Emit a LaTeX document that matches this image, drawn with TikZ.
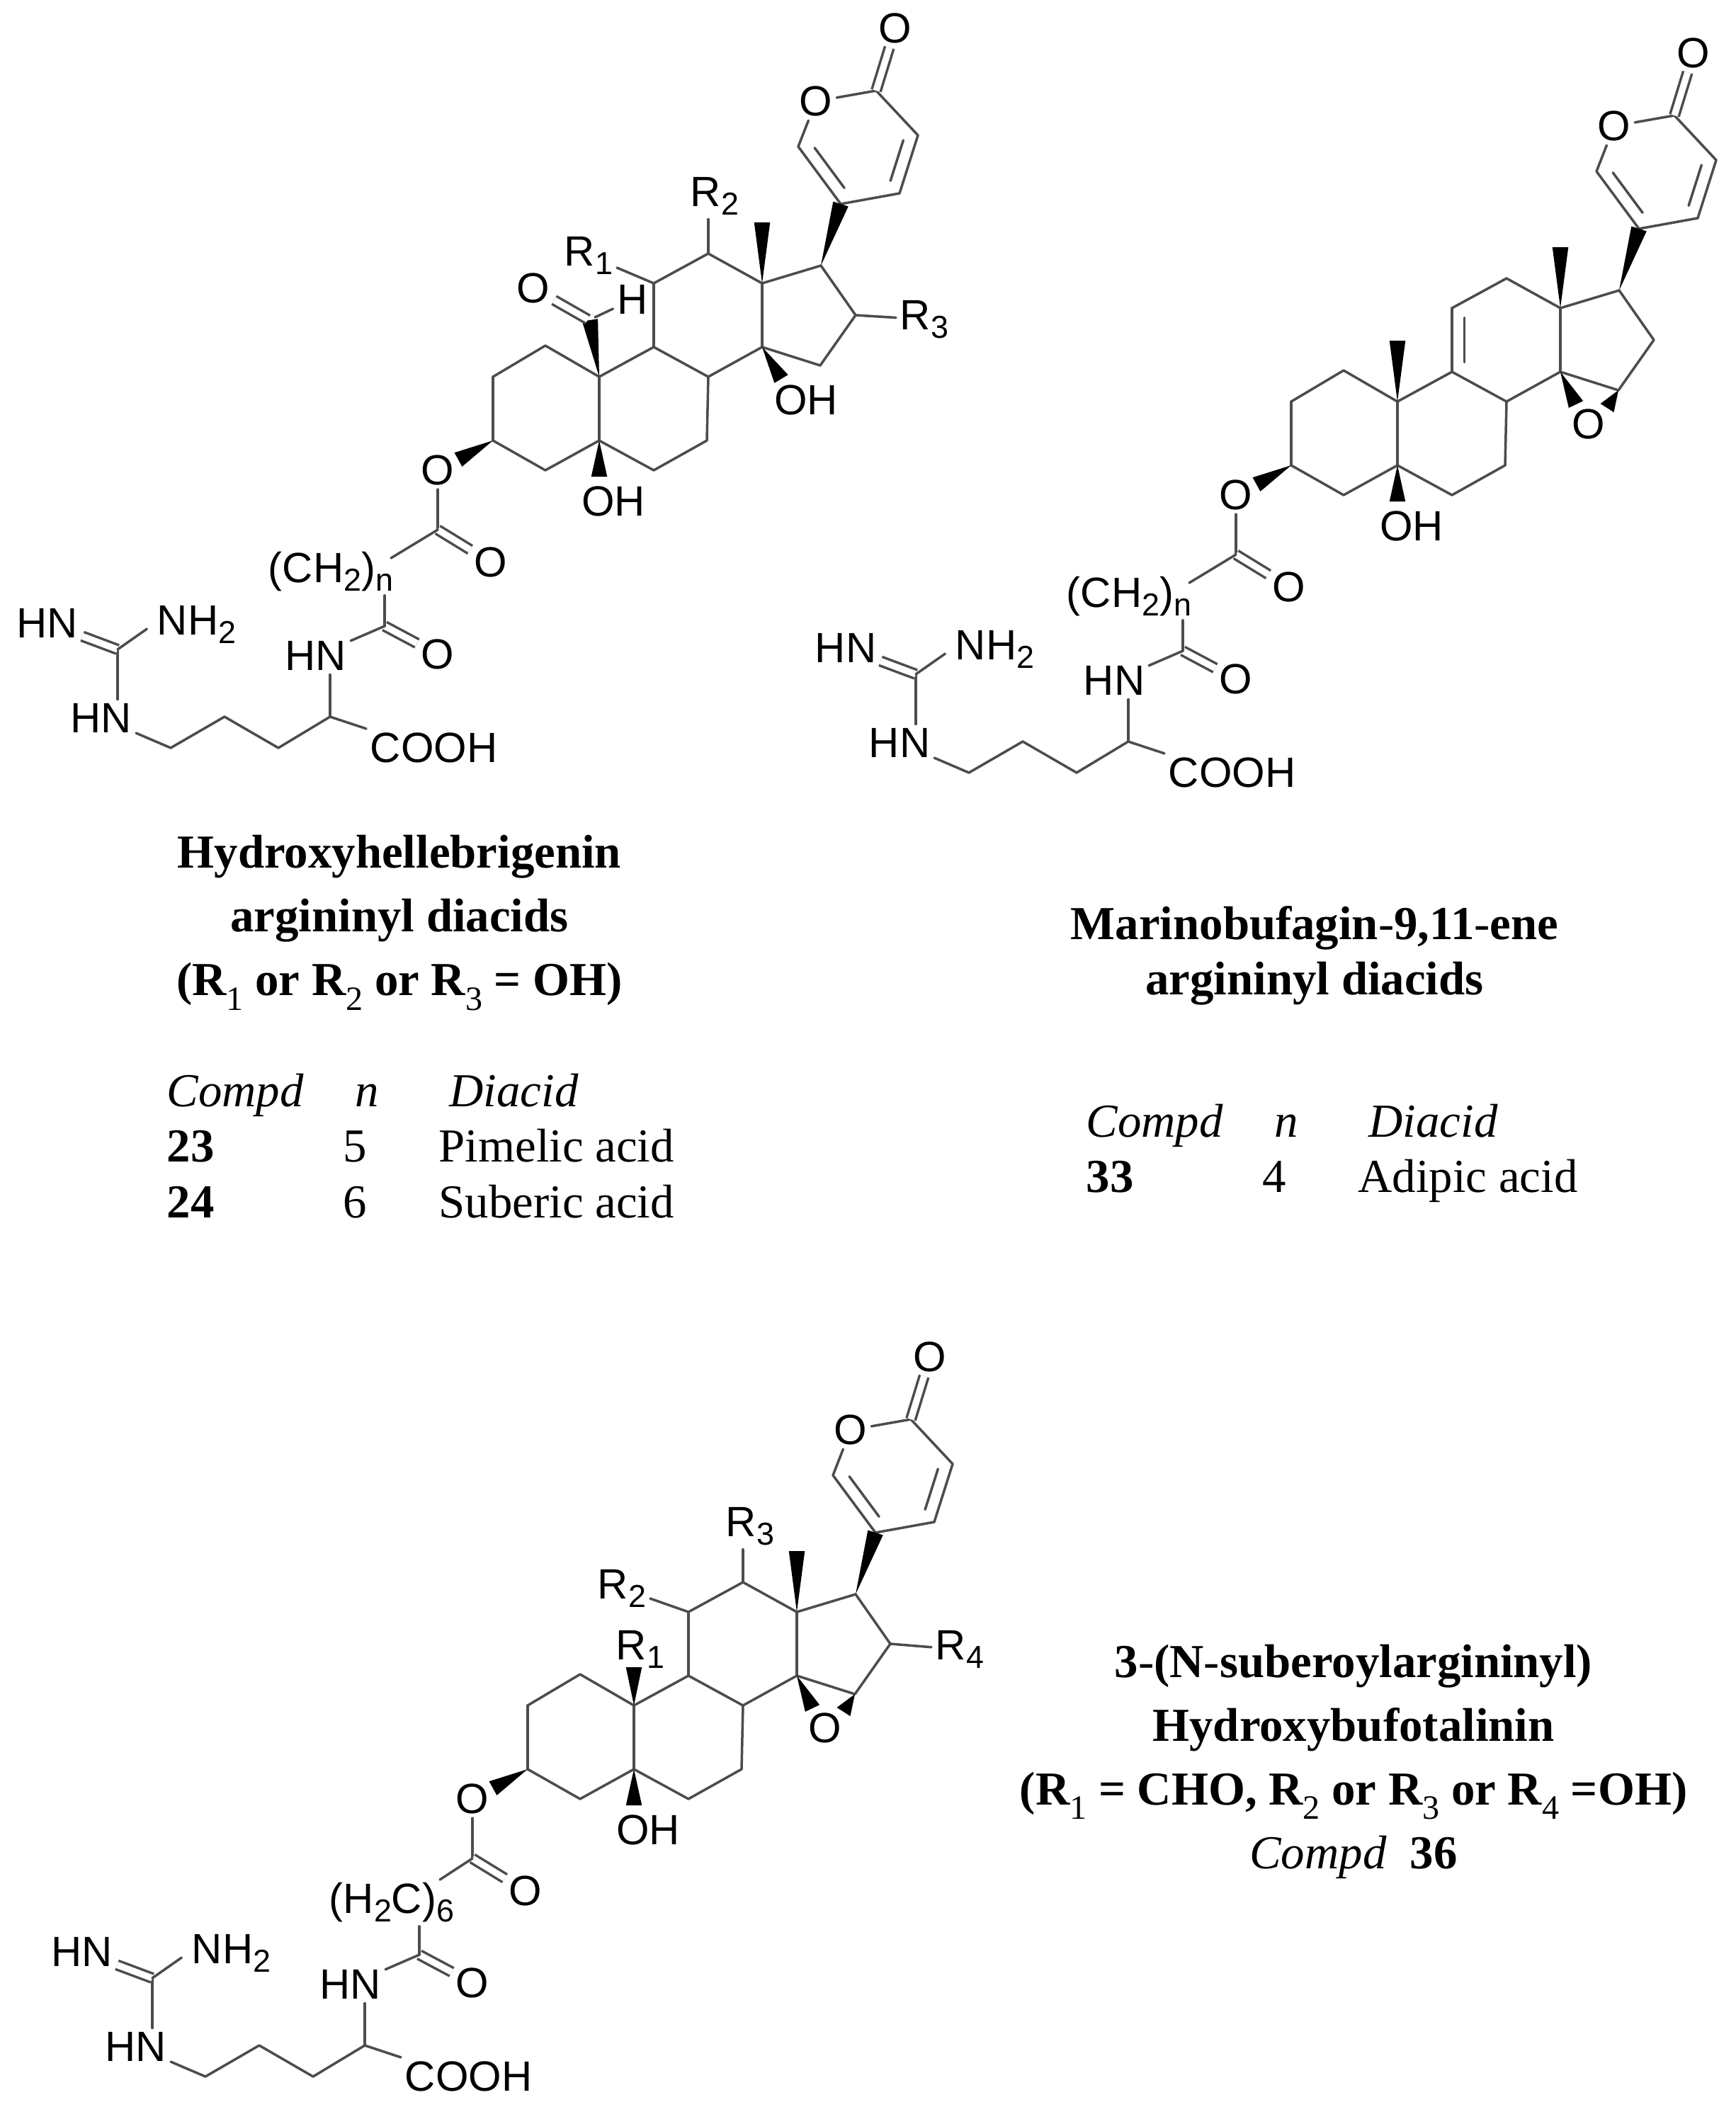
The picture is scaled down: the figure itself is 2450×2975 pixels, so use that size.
\documentclass[tikz,border=0pt]{standalone}
\usepackage{fontspec}
\setmainfont{Liberation Serif}
\newfontfamily\atomfamily{Liberation Sans}
\usetikzlibrary{calc}
\definecolor{bondgray}{gray}{0.3}
\newcommand{\sbs}[1]{\raisebox{-0.2em}{\scalebox{0.75}{#1}}}
\newcommand{\csbs}[1]{\raisebox{-0.3em}{\scalebox{0.72}{\mdseries #1}}}
\newcommand{\thinhy}{{\mdseries-}}
\newcommand{\capfont}{\fontsize{19}{25.6}\selectfont}
\newcommand{\wedgebond}[2]{\fill[black] (#1) -- ($(#2)!3.2pt!90:(#1)$) -- ($(#2)!3.2pt!-90:(#1)$) -- cycle;}
\newcommand{\innerbond}[3]{\draw[bond] ($(#1)!.15!(#2)!#3!90:(#2)$) -- ($(#2)!.15!(#1)!#3!-90:(#1)$);}
\tikzset{
  bond/.style={draw=bondgray,line width=1pt,line cap=round,line join=round},
  dbl/.style={bond,double=white,double distance=2.6pt,line cap=butt},
  atom/.style={font=\atomfamily\fontsize{17}{19}\selectfont,inner sep=1.5pt,text=black},
  captext/.style={font=\capfont\bfseries,align=center,inner sep=0pt},
  cell/.style={font=\capfont,anchor=base west,inner sep=0pt},
}
%steroid rings and pyranone, same in all three
\newcommand{\skeleton}{
  \coordinate (c1) at (770,488); \coordinate (c2) at (696,532);
  \coordinate (c3) at (696,622); \coordinate (c4) at (770,664);
  \coordinate (c5) at (846,622); \coordinate (c6) at (923,664);
  \coordinate (c7) at (998,622); \coordinate (c8) at (1000,532);
  \coordinate (c9) at (923,490); \coordinate (c10) at (846,532);
  \coordinate (c11) at (923,400); \coordinate (c12) at (1000,358);
  \coordinate (c13) at (1076,400); \coordinate (c14) at (1076,490);
  \coordinate (c15) at (1158,516); \coordinate (c16) at (1208,445);
  \coordinate (c17) at (1159,375);
  \coordinate (p2) at (1237,128); \coordinate (p3) at (1296,191);
  \coordinate (p4) at (1270,273); \coordinate (p5) at (1187,288);
  \coordinate (p6) at (1127,207);
  \coordinate (me) at (1076,314); \coordinate (oht) at (846,673);
  \coordinate (oet) at (647,649);
  \node[atom] (po) at (1152,143) {O};
  \node[atom] (pco) at (1264,40) {O};
  \node[atom] (oh5) at (866,708) {OH};
  \foreach \a/\b in {c1/c2,c2/c3,c3/c4,c4/c5,c5/c10,c10/c1,c5/c6,c6/c7,c7/c8,c8/c9,c9/c10,
    c9/c11,c11/c12,c12/c13,c13/c14,c14/c8,c13/c17,c17/c16,c16/c15,c15/c14,
    p2/p3,p3/p4,p4/p5,p5/p6}
    \draw[bond] (\a) -- (\b);
  \draw[bond] (p2) -- (po);
  \draw[bond] (po) -- (p6);
  \draw[dbl] (p2) -- (pco);
  \innerbond{p6}{p5}{5pt}
  \innerbond{p4}{p3}{5pt}
  \wedgebond{c13}{me}
  \wedgebond{c17}{p5}
  \wedgebond{c5}{oht}
  \wedgebond{c3}{oet}
}
%ester, amide and arginine part
\newcommand{\tailchain}{
  \node[atom] (oest) at (618,664) {O};
  \coordinate (cq) at (618,748);
  \node[atom] (oq) at (693,794) {O};
  \coordinate (ca) at (543,884);
  \node[atom] (oa) at (618,924) {O};
  \node[atom] (hna) at (446,926) {HN};
  \coordinate (cal) at (466,1012);
  \node[atom,anchor=west] (cooh) at (517,1056) {COOH};
  \coordinate (t1) at (393,1056);
  \coordinate (t2) at (317,1012);
  \coordinate (t3) at (241,1056);
  \node[atom] (hnb) at (143,1014) {HN};
  \coordinate (cg) at (166,917);
  \node[atom] (hnc) at (67,880) {HN};
  \node[atom,anchor=west] (nh) at (216,882) {NH\sbs{2}};
  \draw[bond] (oest) -- (cq);
  \draw[dbl] (cq) -- (oq);
  \draw[dbl] (ca) -- (oa);
  \draw[bond] (ca) -- (hna);
  \draw[bond] (cal) -- (cal |- hna.south);
  \draw[bond] (cal) -- (cooh.north west);
  \draw[bond] (cal) -- (t1) -- (t2) -- (t3) -- (hnb);
  \draw[bond] (cg) -- (cg |- hnb.north);
  \draw[dbl] (cg) -- (hnc);
  \draw[bond,shorten >=3pt] (cg) -- (nh.west);
}
%epoxide on c14 and c15
\newcommand{\epoxide}{
  \node[atom] (oep) at (1116,564) {O};
  \coordinate (ep1) at (1098,536);
  \coordinate (ep2) at (1142,541);
  \wedgebond{c14}{ep1}
  \wedgebond{c15}{ep2}
}
\begin{document}
\begin{tikzpicture}[x=0.01cm,y=-0.01cm]
  \useasboundingbox (0,0) rectangle (2450,2975);

  %hydroxyhellebrigenin
  \begin{scope}[name prefix=a-]
    \skeleton
    \tailchain
    \coordinate (cho) at (833,452);
    \coordinate (chd) at (830,451);
    \coordinate (chh) at (840,448);
    \coordinate (me14) at (1103,535);
    \coordinate (cqe) at (552,788);
    \node[atom] (ohb) at (1138,565) {OH};
    \node[atom] (ald) at (753,407) {O};
    \node[atom] (hal) at (893,423) {H};
    \node[atom] (rone) at (831,361) {R\sbs{1}};
    \node[atom] (rtwo) at (1009,277) {R\sbs{2}};
    \node[atom] (rthree) at (1305,451) {R\sbs{3}};
    \node[atom,anchor=west] (chn) at (373,807) {(CH\sbs{2})\sbs{n}};
    \wedgebond{c10}{cho}
    \wedgebond{c14}{me14}
    \draw[dbl] (chd) -- (ald);
    \draw[bond] (chh) -- (hal);
    \draw[bond] (c11) -- (rone);
    \draw[bond] (c12) -- (c12 |- rtwo.south);
    \draw[bond] (c16) -- (rthree);
    \draw[bond] (cq) -- (cqe);
    \draw[bond] (ca) -- (ca |- chn.south);
  \end{scope}

  %marinobufagin
  \begin{scope}[shift={(1127,35)},name prefix=b-]
    \skeleton
    \tailchain
    \epoxide
    \coordinate (me10) at (846,446);
    \coordinate (cqe) at (552,788);
    \node[atom,anchor=west] (chn) at (373,807) {(CH\sbs{2})\sbs{n}};
    \wedgebond{c10}{me10}
    \innerbond{c11}{c9}{5pt}
    \draw[bond] (cq) -- (cqe);
    \draw[bond] (ca) -- (ca |- chn.south);
  \end{scope}

  %hydroxybufotalinin
  \begin{scope}[shift={(49,1876)},name prefix=c-]
    \skeleton
    \tailchain
    \epoxide
    \coordinate (me10) at (846,478);
    \coordinate (cqe) at (572,778);
    \node[atom] (rone) at (855,453) {R\sbs{1}};
    \node[atom] (rtwo) at (829,367) {R\sbs{2}};
    \node[atom] (rthree) at (1010,279) {R\sbs{3}};
    \node[atom] (rfour) at (1306,453) {R\sbs{4}};
    \node[atom,anchor=west] (hcn) at (410,810) {(H\sbs{2}C)\sbs{6}};
    \wedgebond{c10}{me10}
    \draw[bond] (c11) -- (rtwo);
    \draw[bond] (c12) -- (c12 |- rthree.south);
    \draw[bond] (c16) -- (rfour);
    \draw[bond] (cq) -- (cqe);
    \draw[bond] (ca) -- (ca |- hcn.south);
  \end{scope}

  %captions
  \node[captext] (capa) at (564,1303) {Hydroxyhellebrigenin\\argininyl diacids\\(R\csbs{1} or R\csbs{2} or R\csbs{3} = OH)};
  \node[captext,font=\fontsize{19}{22.2}\selectfont\bfseries] (capb) at (1856,1349) {Marinobufagin\thinhy9,11\thinhy ene\\argininyl diacids};
  \node[captext] (capc) at (1911,2487) {3\thinhy(N\thinhy suberoylargininyl)\\Hydroxybufotalinin\\(R\csbs{1} = CHO, R\csbs{2} or R\csbs{3} or R\csbs{4} =OH)\\{\mdseries\itshape Compd}\ \ 36};

  %tables
  \node[cell] (ha1) at (235,1562) {\itshape Compd};
  \node[cell] (ha2) at (501,1562) {\itshape n};
  \node[cell] (ha3) at (634,1562) {\itshape Diacid};
  \node[cell] (ra1) at (235,1640) {\bfseries 23};
  \node[cell] (ra2) at (484,1640) {5};
  \node[cell] (ra3) at (619,1640) {Pimelic acid};
  \node[cell] (sa1) at (235,1719) {\bfseries 24};
  \node[cell] (sa2) at (484,1719) {6};
  \node[cell] (sa3) at (619,1719) {Suberic acid};
  \node[cell] (hb1) at (1533,1605) {\itshape Compd};
  \node[cell] (hb2) at (1799,1605) {\itshape n};
  \node[cell] (hb3) at (1932,1605) {\itshape Diacid};
  \node[cell] (rb1) at (1533,1683) {\bfseries 33};
  \node[cell] (rb2) at (1782,1683) {4};
  \node[cell] (rb3) at (1917,1683) {Adipic acid};
\end{tikzpicture}
\end{document}
